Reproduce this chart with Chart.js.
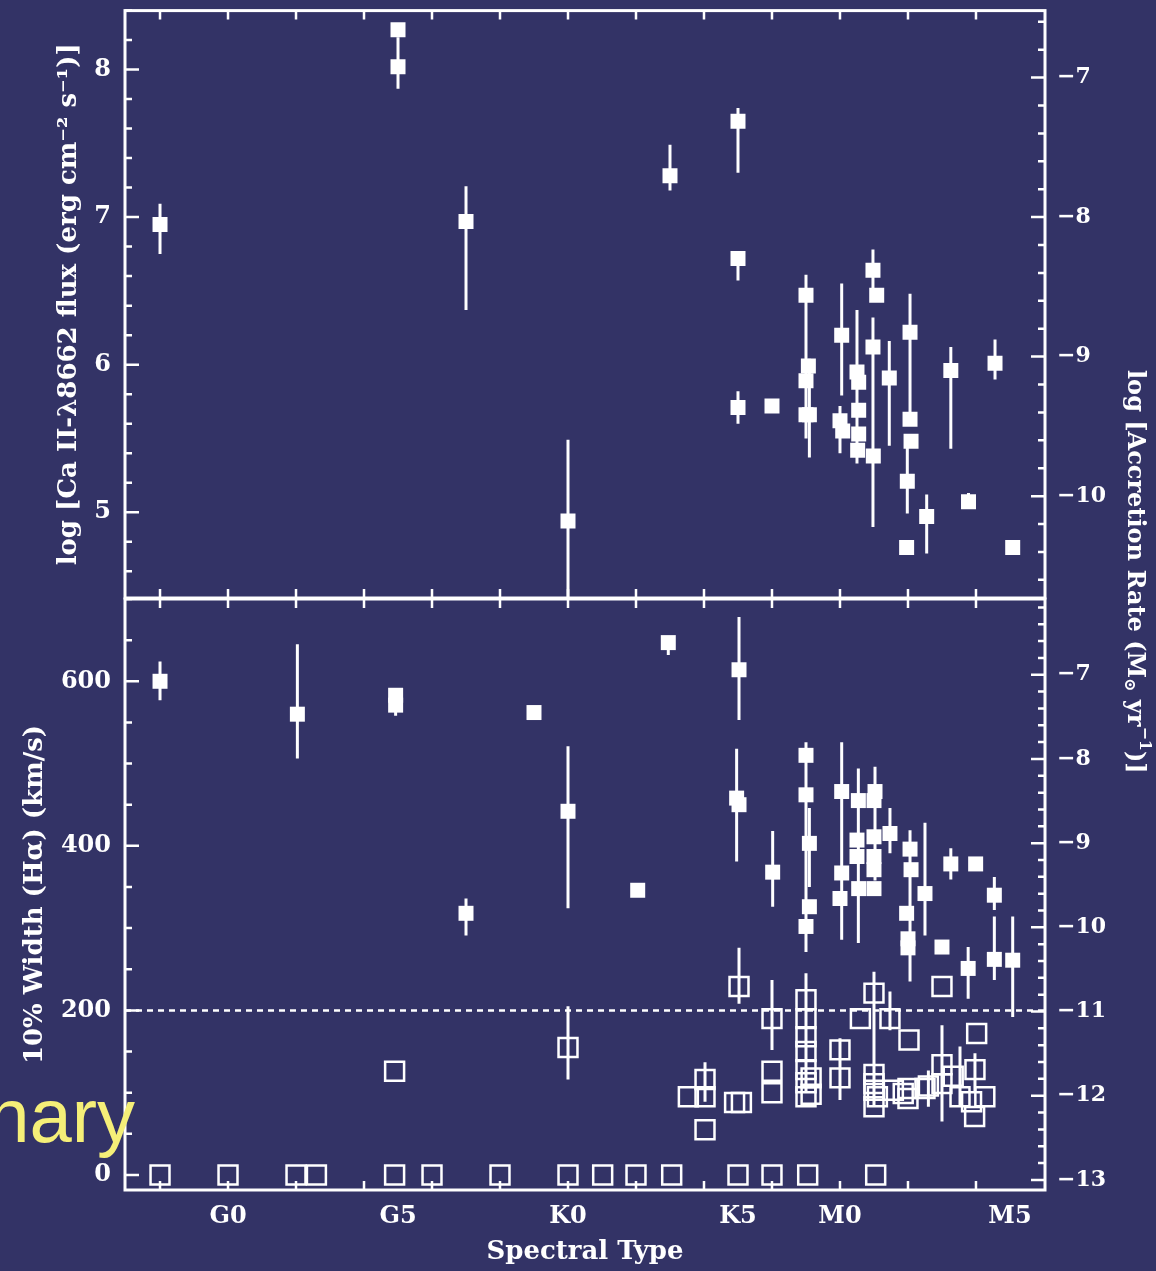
<!DOCTYPE html>
<html>
<head>
<meta charset="utf-8">
<script src="https://cdn.jsdelivr.net/npm/chart.js@4.4.1/dist/chart.umd.min.js"></script>
<style>
  body { margin: 0; width: 1156px; height: 1271px; background: #333366; overflow: hidden; position: relative; }
  canvas { position: absolute; left: 0; top: 0; }
  #rate { position: absolute; left: 1121px; top: 370px; writing-mode: vertical-rl; font: bold 24px 'DejaVu Serif'; color: #fff; white-space: nowrap; }
  #rate sub, #rate sup { font-size: 16px; }
  #prelim { position: absolute; right: 1021px; top: 1072px; font: 76px 'Liberation Sans'; color: #f5ef78; white-space: nowrap; }
</style>
</head>
<body>
<canvas id="panelTop" width="1156" height="1271"></canvas>
<canvas id="panelBottom" width="1156" height="1271"></canvas>
<div id="rate">log [Accretion Rate (M<sub>⊙</sub> yr<sup>−1</sup>)]</div>
<div id="prelim">Preliminary</div>
<script>
"use strict";

// spectral type axis : G0 = 0, G5 = 5, K0 = 10, K5 = 15, M0 = 18, M5 = 23
const typeTicks = [0, 5, 10, 15, 18, 23];
const typeNames = ["G0", "G5", "K0", "K5", "M0", "M5"];
const fluxTicks = [5, 6, 7, 8];
const widthTicks = [0, 200, 400, 600];
const rateTicksTop = [-7, -8, -9, -10];
const rateTicksBottom = [-7, -8, -9, -10, -11, -12, -13];
const widthLimit = 200;

// top panel : Ca II 8662 flux
const caType = [-2, 5, 5, 7, 10, 13, 15, 15, 15, 16, 17, 17.07, 17, 17, 17.1, 18.05, 18, 18.08, 18.5, 18.55,
  18.55, 18.55, 18.52, 18.97, 19.08, 18.97, 18.98, 19.45, 20.06, 20.06, 20.09, 19.98, 19.96, 20.55, 21.26, 21.78, 22.56, 23.08];
const caFlux = [6.95, 8.27, 8.02, 6.97, 4.94, 7.28, 7.65, 6.72, 5.71, 5.72, 6.47, 5.99, 5.89, 5.66, 5.66, 6.20, 5.62, 5.55, 5.95, 5.88,
  5.69, 5.53, 5.42, 6.64, 6.47, 6.12, 5.38, 5.91, 6.22, 5.63, 5.48, 5.21, 4.76, 4.97, 5.96, 5.07, 6.01, 4.76];
const caLow = [6.75, null, 7.87, 6.37, 4.42, 7.18, 7.30, 6.57, 5.60, null, 5.50, null, null, null, 5.37, 5.79, 5.40, null, 5.33, null,
  null, null, null, 6.47, null, 4.90, null, 5.45, 5.64, null, null, 4.99, null, 4.72, 5.43, 5.07, 5.90, null];
const caHigh = [7.09, null, 8.22, 7.21, 5.49, 7.49, 7.74, 6.77, 5.82, null, 6.61, null, null, null, 6.04, 6.55, 5.72, null, 6.37, null,
  null, null, null, 6.78, null, 6.32, null, 6.16, 6.48, null, null, 5.48, null, 5.12, 6.12, 5.13, 6.17, null];

// bottom panel, filled : accretors, 10% width of H alpha
const awType = [-2, 2.04, 4.93, 4.93, 9.0, 10, 7.0, 12.05, 12.95, 15.03, 14.96, 15.03, 16.02, 17.0, 17.0, 17.1, 17.1, 17.0, 18.05, 18.05,
  18.0, 18.54, 19.03, 19.0, 18.5, 19.0, 18.5, 19.0, 19.0, 18.55, 19.0, 19.47, 20.06, 20.09, 19.96, 20.0, 20.0, 20.5, 21.26, 21.99,
  21.0, 21.77, 22.54, 22.54, 23.08];
const awWidth = [600, 560, 583, 571, 562, 442, 318, 346, 647, 614, 458, 450, 368, 510, 462, 403, 326, 302, 466, 367,
  336, 455, 466, 455, 407, 411, 387, 387, 371, 348, 348, 415, 396, 371, 318, 287, 276, 342, 378, 378,
  277, 251, 340, 262, 261];
const awLow = [577, 506, null, 558, null, 324, 291, null, 632, 553, 381, null, 326, null, null, 350, null, 271, 286, null,
  null, 282, 358, null, null, null, null, null, null, null, null, 391, 235, null, null, null, null, 291, 359, 370,
  null, 214, 322, 237, 192];
const awHigh = [624, 645, null, 590, null, 521, 336, null, 654, 678, 518, null, 418, null, null, 446, null, 526, 526, null,
  null, 494, 496, null, null, null, null, null, null, null, null, 446, 419, null, null, null, null, 428, 397, 385,
  null, 277, 362, 314, 314];

// bottom panel, open : non accretors
const nwType = [-2, 0, 2.0, 2.6, 4.9, 6, 8, 10, 11.02, 12, 13.05, 15.0, 16.0, 17.05, 19.05,
  4.9, 10, 15.03, 16.0, 16.0, 16.0, 13.54, 14.03, 14.03, 14.03, 14.9, 15.1,
  17.0, 17.0, 17.0, 17.0, 17.0, 17.0, 17.0, 17.15, 17.15,
  18.0, 18.0, 19.0, 18.6, 19.47, 20.03, 19.0, 19.0, 19.0, 19.0, 19.1, 19.57, 19.86, 20.0, 20.0,
  20.5, 20.6, 21.0, 21.0, 21.33, 21.53, 21.97, 21.87, 21.96, 22.26, 21.0, 22.02];
const nwWidth = [0, 0, 0, 0, 0, 0, 0, 0, 0, 0, 0, 0, 0, 0, 0,
  126, 155, 229, 190, 126, 100, 95, 116, 95, 55, 88, 88,
  213, 190, 168, 150, 128, 112, 95, 118, 98,
  152, 118, 221, 190, 190, 164, 122, 111, 103, 83, 95, 103, 99, 105, 93,
  105, 108, 134, 111, 120, 95, 128, 89, 71, 95, 229, 172];
const nwLow = [null, null, null, null, null, null, null, null, null, null, null, null, null, null, null,
  null, 116, 208, 152, null, null, null, 89, null, null, null, null,
  null, null, null, 100, null, null, null, null, null,
  null, 91, 185, null, 176, null, 83, null, null, null, null, null, null, null, null,
  null, 83, 65, null, null, 83, 100, null, null, null, null, null];
const nwHigh = [null, null, null, null, null, null, null, null, null, null, null, null, null, null, null,
  null, 205, 276, 237, null, null, null, 137, null, null, null, null,
  null, null, null, 245, null, null, null, null, null,
  null, 166, 247, null, 223, null, 190, null, null, null, null, null, null, null, null,
  null, 127, 182, null, null, 156, 148, null, null, null, null, null];

const X_MIN = -3.03, X_MAX = 24.03;
const white = "#ffffff";
const tickFont = { family: "'DejaVu Serif'", size: 24, weight: "bold" };
const rightFont = { family: "'DejaVu Serif'", size: 22, weight: "bold" };
const titleFont = { family: "'DejaVu Serif'", size: 26, weight: "bold" };

function points(types, values) {
  return types.map((t, i) => ({ x: t, y: values[i] }));
}

// one segment per error bar, null to break the line
function bars(types, lows, highs) {
  let out = [];
  types.forEach((t, i) => {
    if (lows[i] === null) return;
    out.push({ x: t, y: lows[i] }, { x: t, y: highs[i] }, { x: t, y: null });
  });
  return out;
}

function steps(from, to, step, skip) {
  let out = [];
  for (let v = from; v <= to + 1e-9; v += step) {
    let r = Math.round(v * 100) / 100;
    if (skip.indexOf(r) < 0) out.push(r);
  }
  return out;
}

function fixSize(w, h) {
  return s => {
    if (w) s.width = w;
    if (h) s.height = h;
    s.paddingTop = 0; s.paddingBottom = 0; s.paddingLeft = 0; s.paddingRight = 0;
  };
}

function setTicks(list) {
  return s => { s.ticks = list.map(v => ({ value: v })); };
}

// frame with inward ticks, like the original plot
function frame(cfg) {
  return {
    id: "frame",
    afterDatasetsDraw(chart) {
      const { ctx, chartArea: a, scales } = chart;
      ctx.save();
      ctx.strokeStyle = white;
      ctx.lineWidth = 3;
      ctx.strokeRect(a.left, a.top, a.right - a.left, a.bottom - a.top);
      ctx.lineWidth = 2.5;
      ctx.beginPath();
      cfg.xTicks.forEach(v => {
        const px = scales.x.getPixelForValue(v);
        ctx.moveTo(px, a.top); ctx.lineTo(px, a.top + 9);
        ctx.moveTo(px, a.bottom); ctx.lineTo(px, a.bottom - 9);
      });
      [["y", a.left, 1], ["y2", a.right, -1]].forEach(([id, x0, dir]) => {
        const sc = scales[id];
        cfg[id].major.forEach(v => {
          const py = sc.getPixelForValue(v);
          ctx.moveTo(x0, py); ctx.lineTo(x0 + dir * 14, py);
        });
        cfg[id].minor.forEach(v => {
          const py = sc.getPixelForValue(v);
          ctx.moveTo(x0, py); ctx.lineTo(x0 + dir * 7, py);
        });
      });
      ctx.stroke();
      ctx.restore();
    }
  };
}

const evenTypes = steps(-2, 22, 2, []);
const noGrid = { display: false, drawTicks: false };

// ---- top panel
new Chart(document.getElementById("panelTop"), {
  type: "scatter",
  data: {
    datasets: [
      { data: points(caType, caFlux), pointStyle: "rect", pointRadius: 10.6, pointBackgroundColor: white, pointBorderWidth: 0, order: 0 },
      { data: bars(caType, caLow, caHigh), showLine: true, borderColor: white, borderWidth: 3, pointRadius: 0, order: 1 }
    ]
  },
  options: {
    responsive: false, animation: false, devicePixelRatio: 1, events: [],
    layout: { padding: { top: 7, bottom: 673, left: 0, right: 0 } },
    plugins: { legend: { display: false }, tooltip: { enabled: false } },
    scales: {
      x: { type: "linear", min: X_MIN, max: X_MAX, display: false },
      y: {
        type: "linear", position: "left", min: 4.418, max: 8.40,
        afterBuildTicks: setTicks(fluxTicks), afterFit: fixSize(125, 0),
        grid: noGrid, border: { display: false },
        ticks: { padding: 14, color: white, font: tickFont },
        title: { display: true, text: "log [Ca II-λ8662 flux (erg cm⁻² s⁻¹)]", color: white, font: titleFont, padding: { top: 54, bottom: 0 } }
      },
      y2: {
        type: "linear", position: "right", min: -10.73, max: -6.52,
        afterBuildTicks: setTicks(rateTicksTop), afterFit: fixSize(111, 0),
        grid: noGrid, border: { display: false },
        ticks: { padding: 12, color: white, font: rightFont, callback: v => "\u2212" + Math.abs(v) }
      }
    }
  },
  plugins: [frame({
    xTicks: evenTypes,
    y: { major: fluxTicks, minor: steps(4.6, 8.4, 0.2, fluxTicks) },
    y2: { major: rateTicksTop, minor: steps(-10.6, -6.6, 0.2, rateTicksTop) }
  })]
});

// ---- bottom panel
new Chart(document.getElementById("panelBottom"), {
  type: "scatter",
  data: {
    datasets: [
      { data: points(awType, awWidth), pointStyle: "rect", pointRadius: 10.6, pointBackgroundColor: white, pointBorderWidth: 0, order: 0 },
      { data: points(nwType, nwWidth), pointStyle: "rect", pointRadius: 13.4, pointBackgroundColor: "rgba(0,0,0,0)", pointBorderColor: white, pointBorderWidth: 2.5, order: 1 },
      { data: bars(awType, awLow, awHigh), showLine: true, borderColor: white, borderWidth: 3, pointRadius: 0, order: 2 },
      { data: bars(nwType, nwLow, nwHigh), showLine: true, borderColor: white, borderWidth: 3, pointRadius: 0, order: 3 },
      { data: [{ x: X_MIN, y: widthLimit }, { x: X_MAX, y: widthLimit }], showLine: true, borderColor: white, borderWidth: 2.5, borderDash: [6, 5], pointRadius: 0, order: 4 }
    ]
  },
  options: {
    responsive: false, animation: false, devicePixelRatio: 1, events: [],
    layout: { padding: { top: 599, bottom: 0, left: 0, right: 0 } },
    plugins: { legend: { display: false }, tooltip: { enabled: false } },
    scales: {
      x: {
        type: "linear", position: "bottom", min: X_MIN, max: X_MAX,
        afterBuildTicks: setTicks(typeTicks), afterFit: fixSize(0, 81),
        grid: noGrid, border: { display: false },
        ticks: { padding: 12, color: white, font: tickFont, maxRotation: 0, autoSkip: false, callback: (v, i) => typeNames[i] },
        title: { display: true, text: "Spectral Type", color: white, font: titleFont, padding: { top: 0, bottom: 3 } }
      },
      y: {
        type: "linear", position: "left", min: -18.3, max: 700,
        afterBuildTicks: setTicks(widthTicks), afterFit: fixSize(125, 0),
        grid: noGrid, border: { display: false },
        ticks: { padding: 14, color: white, font: tickFont },
        title: { display: true, text: "10% Width (Hα) (km/s)", color: white, font: titleFont, padding: { top: 20, bottom: 0 } }
      },
      y2: {
        type: "linear", position: "right", min: -13.12, max: -6.10,
        afterBuildTicks: setTicks(rateTicksBottom), afterFit: fixSize(111, 0),
        grid: noGrid, border: { display: false },
        ticks: { padding: 12, color: white, font: rightFont, callback: v => "\u2212" + Math.abs(v) }
      }
    }
  },
  plugins: [frame({
    xTicks: evenTypes,
    y: { major: widthTicks, minor: steps(50, 700, 50, widthTicks) },
    y2: { major: rateTicksBottom, minor: steps(-13, -6.2, 0.2, rateTicksBottom) }
  })]
});
</script>
</body>
</html>
